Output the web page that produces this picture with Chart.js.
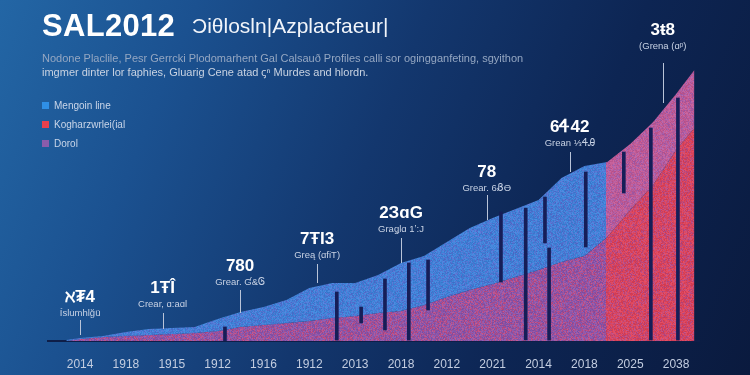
<!DOCTYPE html>
<html>
<head>
<meta charset="utf-8">
<script src="https://cdn.jsdelivr.net/npm/chart.js@4.4.0/dist/chart.umd.min.js"></script>
<style>
  html, body { margin: 0; padding: 0; }
  body {
    width: 750px; height: 375px; overflow: hidden; position: relative;
    background: linear-gradient(112deg, #2366a5 0%, #1b5190 22%, #13376e 48%, #0d2553 72%, #0a1a3e 100%);
    font-family: "Liberation Sans", Arial, sans-serif;
  }
  #chart { position: absolute; left: 0; top: 0; }
  .title { position: absolute; left: 42px; top: 10px; font-size: 31px; line-height: 31px; font-weight: bold; color: #fff; letter-spacing: 0.3px; }
  .subtitle { position: absolute; left: 192px; top: 15px; font-size: 21px; line-height: 21px; color: #f2f5fa; }
  .desc { position: absolute; left: 42px; top: 51px; font-size: 11px; line-height: 14px; white-space: nowrap; }
  .desc .l1 { color: #95a7c2; }
  .desc .l2 { color: #c9d3e2; }
  .legend { position: absolute; left: 42px; top: 100px; font-size: 10px; color: #c9d5e8; }
  .legend div { height: 19px; line-height: 12px; }
  .legend span { display: inline-block; width: 7px; height: 7px; margin-right: 5px; vertical-align: 0px; }
</style>
</head>
<body>
<canvas id="chart" width="750" height="375"></canvas>
<div class="title">SAL2012</div>
<div class="subtitle">Ͻiθlosln|Azplacfaeur|</div>
<div class="desc">
  <div class="l1">Nodone Placlile, Pesr Gerrcki Plodomarhent Gal Calsauð Profiles calli sor ogingganfeting, sgyithon</div>
  <div class="l2">imgmer dinter lor faphies, Gluarig Cene atad ꞔⁿ Murdes and hlordn.</div>
</div>
<div class="legend" id="legend"></div>
<script>
// x axis tick labels (one per unit on the x scale)
const xLabels = ['2014', '1918', '1915', '1912', '1916', '1912', '2013', '2018', '2012', '2021', '2014', '2018', '2025', '2038'];

// area profile
const xPos = [-0.3, 0, 0.5, 1, 1.5, 2, 2.5, 3, 3.5, 4, 4.5, 5, 5.5, 6, 6.5, 7, 7.5, 8, 8.5, 9, 9.5, 10, 10.5, 11, 11.5, 12, 12.5, 13, 13.4];
const lowerVals = [0, 2, 4, 5, 6, 7, 8, 10, 14, 16, 18, 20, 23, 25, 28, 30, 36, 44, 51, 57, 64, 71, 79, 85, 104, 131, 156, 191, 213];
const totalVals = [1, 3, 5, 9, 12, 13, 14, 22, 29, 34, 41, 53, 58, 58, 66, 78, 85, 99, 113, 123, 132, 141, 163, 175, 179, 197, 219, 247, 271];
const splitAt = 11.45; // where the colours turn red/pink

// dark floating bars inside the area [low, high]
const barX = [3.16, 5.6, 6.13, 6.65, 7.17, 7.59, 9.18, 9.72, 10.14, 10.23, 11.03, 11.86, 12.45, 13.04];
const barLow = [0, 1, 18, 11, 1, 31, 59, 1, 98, 1, 94, 148, 1, 1];
const barHigh = [14, 49, 34, 62, 78, 81, 129, 133, 144, 93, 169, 189, 213, 243];

// callouts
const annX = [0, 1.8, 3.49, 5.17, 7.0, 8.87, 10.68, 12.71];
const annLow = [6, 12, 28, 58, 78, 121, 169, 238];
const annHigh = [21, 28, 51, 77, 103, 146, 189, 278];
const annLabelY = [44, 53, 75, 102, 128, 169, 214, 311];
const annValue = ['ℵ₮4', '1ŦÎ', '780', '7ŦI3', '2ЗɑG', '78', '6Ꮞ42', '3ŧ8'];
const annNote = ['Íslumhlğü', 'Crear, ɑ:aɑl', 'Grear. Ɠ&Ꮆ', 'Greą (ɑfiT)', 'Graǥlɑ 1ʼ:J', 'Grear. 6ᏰӨ', 'Grean ⅓ᏎᎯ', '(Grena (ɑᵖ)'];

const legendNames = ['Mengoin line', 'Kogharzwrlei(ial', 'Dorol'];
const legendColors = ['#2f8fe6', '#e8404d', '#8a5cab'];

const legendEl = document.getElementById('legend');
legendNames.forEach((n, i) => {
  const d = document.createElement('div');
  d.innerHTML = '<span style="background:' + legendColors[i] + '"></span>' + n;
  legendEl.appendChild(d);
});

// speckled fill textures
const patternCache = {};
function hash(x, y) {
  const s = Math.sin(x * 12.9898 + y * 78.233) * 43758.5453;
  return s - Math.floor(s);
}
function hex(c) {
  return [parseInt(c.slice(1, 3), 16), parseInt(c.slice(3, 5), 16), parseInt(c.slice(5, 7), 16)];
}
function speckle(chart, key, leftA, leftB, rightA, rightB) {
  const cacheKey = key + chart.width + 'x' + chart.height;
  if (patternCache[cacheKey]) return patternCache[cacheKey];
  const c = document.createElement('canvas');
  c.width = chart.width;
  c.height = chart.height;
  const g = c.getContext('2d');
  const img = g.createImageData(c.width, c.height);
  const split = chart.scales.x.getPixelForValue(splitAt);
  const la = hex(leftA), lb = hex(leftB), ra = hex(rightA), rb = hex(rightB);
  for (let y = 0; y < c.height; y++) {
    for (let x = 0; x < c.width; x++) {
      const left = x < split;
      const a = left ? la : ra, b = left ? lb : rb;
      const t = hash(x, y) < 0.65 ? 0.2 : 0.8;
      const j = (hash(y + 3.1, x + 7.7) - 0.5) * 24;
      const i = (y * c.width + x) * 4;
      for (let k = 0; k < 3; k++) {
        img.data[i + k] = Math.max(0, Math.min(255, a[k] * (1 - t) + b[k] * t + j));
      }
      img.data[i + 3] = 255;
    }
  }
  g.putImageData(img, 0, 0);
  patternCache[cacheKey] = chart.ctx.createPattern(c, 'no-repeat');
  return patternCache[cacheKey];
}

const calloutPlugin = {
  id: 'callouts',
  afterDatasetsDraw(chart) {
    const { ctx, scales: { x, y } } = chart;
    ctx.save();
    annX.forEach((v, i) => {
      const px = x.getPixelForValue(v);
      ctx.strokeStyle = '#b9c4d8';
      ctx.lineWidth = 1;
      ctx.beginPath();
      ctx.moveTo(Math.round(px) + 0.5, y.getPixelForValue(annHigh[i]));
      ctx.lineTo(Math.round(px) + 0.5, y.getPixelForValue(annLow[i]));
      ctx.stroke();
      const ly = y.getPixelForValue(annLabelY[i]);
      ctx.textAlign = 'center';
      ctx.textBaseline = 'middle';
      ctx.fillStyle = '#ffffff';
      ctx.font = 'bold 17px "Liberation Sans", Arial, sans-serif';
      ctx.fillText(annValue[i], px, ly);
      ctx.fillStyle = '#c8d2e4';
      ctx.font = '9.5px "Liberation Sans", Arial, sans-serif';
      ctx.fillText(annNote[i], px, ly + 16);
    });
    ctx.restore();
  }
};

new Chart(document.getElementById('chart'), {
  type: 'line',
  data: {
    datasets: [
      {
        type: 'bar',
        label: 'bars',
        data: barX.map((v, i) => ({ x: v, y: [barLow[i], barHigh[i]] })),
        backgroundColor: '#161e58',
        barThickness: 3,
        grouped: false,
        order: 0
      },
      {
        label: legendNames[2],
        data: xPos.map((v, i) => ({ x: v, y: lowerVals[i] })),
        fill: 'origin',
        borderWidth: 0,
        pointRadius: 0,
        tension: 0,
        backgroundColor: ctx => ctx.chart.chartArea ? speckle(ctx.chart, 'low', '#7a58b4', '#c84c7c', '#e4424f', '#b04c8c') : '#7a58b0',
        order: 2
      },
      {
        label: legendNames[0],
        data: xPos.map((v, i) => ({ x: v, y: totalVals[i] })),
        fill: '-1',
        borderWidth: 0,
        pointRadius: 0,
        tension: 0,
        backgroundColor: ctx => ctx.chart.chartArea ? speckle(ctx.chart, 'up', '#3a88da', '#5a6ccc', '#c85a8e', '#a060b0') : '#3a85d8',
        order: 1
      }
    ]
  },
  options: {
    responsive: false,
    animation: false,
    layout: { padding: { left: 48, right: 51, top: 20, bottom: 0 } },
    plugins: { legend: { display: false }, tooltip: { enabled: false } },
    scales: {
      x: {
        type: 'linear',
        min: -0.7,
        max: 13.5,
        offset: false,
        afterBuildTicks: s => { s.ticks = xLabels.map((_, i) => ({ value: i })); },
        afterFit: s => { s.height = 34; },
        ticks: {
          callback: v => xLabels[v] ?? '',
          color: '#c3cde0',
          font: { size: 12, family: '"Liberation Sans", Arial, sans-serif' },
          padding: 16,
          maxRotation: 0,
          autoSkip: false
        },
        grid: { display: false, drawTicks: false },
        border: { display: true, color: '#0e1e48', width: 2 }
      },
      y: {
        display: false,
        min: 0,
        max: 321
      }
    }
  },
  plugins: [calloutPlugin]
});
</script>
</body>
</html>
